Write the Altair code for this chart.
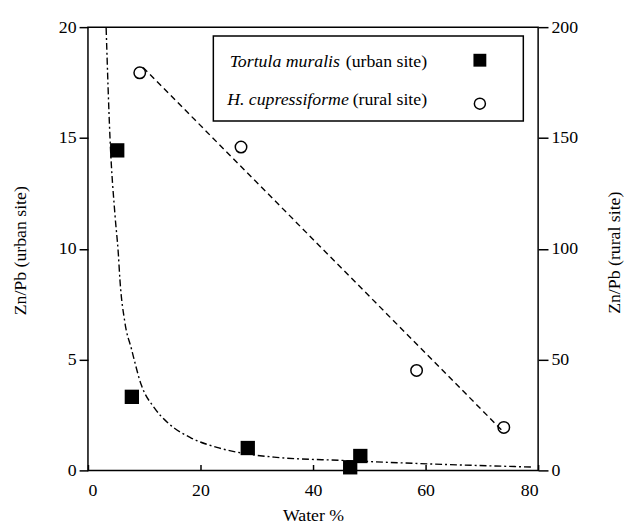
import altair as alt
import pandas as pd

# --- data ---
urban_water = [5.2, 7.8, 28.4, 46.6, 48.4]
urban_ratio = [14.44, 3.32, 1.01, 0.14, 0.65]

rural_water = [9.2, 27.2, 58.4, 73.9]
rural_ratio = [179.4, 145.9, 45.1, 19.4]

# fitted curve for the urban site
curve_water = [3.23, 3.93, 4.81, 5.39, 5.68, 6.56, 7.72, 9.47, 11.8, 14.2,
               18.2, 22.9, 27.6, 33.5, 45.2, 61.0, 79.1]
curve_ratio = [19.96, 14.92, 11.5, 9.8, 8.61, 6.68, 5.49, 3.86, 2.82, 2.15,
               1.48, 1.04, 0.77, 0.59, 0.45, 0.29, 0.15]

# regression line for the rural site (end points traced)
line_water = [9.8, 73.8]
line_ratio = [181.8, 17.5]

x_ticks = [0, 20, 40, 60, 80]
left_ticks = [0, 5, 10, 15, 20]
right_ticks = [0, 50, 100, 150, 200]

FONT = "Liberation Serif"

urban_df = pd.DataFrame({"water": urban_water, "ratio": urban_ratio})
rural_df = pd.DataFrame({"water": rural_water, "ratio": rural_ratio})
curve_df = pd.DataFrame({"water": curve_water, "ratio": curve_ratio})
line_df = pd.DataFrame({"water": line_water, "ratio": line_ratio})

x_scale = alt.Scale(domain=[0, 80], nice=False, zero=False)
x_axis = alt.Axis(values=x_ticks, title="Water %", offset=-6, tickSize=6,
                  labelPadding=11, titleY=57, titleBaseline="alphabetic",
                  titleAlign="center", titleX=228)

left_scale = alt.Scale(domain=[0, 20], nice=False)
right_scale = alt.Scale(domain=[0, 200], nice=False)

left_axis = alt.Axis(values=left_ticks, title="Zn/Pb (urban site)", tickSize=9,
                     labelPadding=3, titleAngle=-90, titleX=-63, titleY=226,
                     titleAlign="center", titleBaseline="alphabetic")
right_axis = alt.Axis(values=right_ticks, title="Zn/Pb (rural site)", orient="right",
                      tickSize=10, labelPadding=3, titleAngle=-90, titleX=82,
                      titleY=228, titleAlign="center", titleBaseline="alphabetic")

urban_pts = alt.Chart(urban_df).mark_point(
    shape="square", filled=True, color="black", size=210, opacity=1
).encode(
    x=alt.X("water:Q", scale=x_scale, axis=x_axis),
    y=alt.Y("ratio:Q", scale=left_scale, axis=left_axis),
)
urban_curve = alt.Chart(curve_df).mark_line(
    color="black", strokeWidth=1.4, strokeDash=[7, 3, 2, 3], interpolate="monotone"
).encode(
    x=alt.X("water:Q", scale=x_scale),
    y=alt.Y("ratio:Q", scale=left_scale),
)
urban = alt.layer(urban_curve, urban_pts)

rural_pts = alt.Chart(rural_df).mark_point(
    shape="circle", filled=False, color="black", size=135, strokeWidth=1.5, opacity=1
).encode(
    x=alt.X("water:Q", scale=x_scale),
    y=alt.Y("ratio:Q", scale=right_scale, axis=right_axis),
)
rural_line = alt.Chart(line_df).mark_line(
    color="black", strokeWidth=1.4, strokeDash=[6, 4]
).encode(
    x=alt.X("water:Q", scale=x_scale),
    y=alt.Y("ratio:Q", scale=right_scale),
)
rural = alt.layer(rural_line, rural_pts)

# --- hand-built legend (mixed italic / regular text) ---
one = pd.DataFrame({"k": [0]})
legend_box = alt.Chart(one).mark_rect(
    fill="white", stroke="black", strokeWidth=1.5
).encode(x=alt.value(127), x2=alt.value(441), y=alt.value(9), y2=alt.value(95))

def txt(s, x, y, italic, align):
    return alt.Chart(one).mark_text(
        text=s, font=FONT, fontSize=18, fontStyle="italic" if italic else "normal",
        align=align, baseline="alphabetic", color="black"
    ).encode(x=alt.value(x), y=alt.value(y))

leg_t1a = txt("Tortula muralis", 143.5, 40, True, "left")
leg_t1b = txt("(urban site)", 343.5, 40, False, "right")
leg_t2a = txt("H. cupressiforme", 141, 79, True, "left")
leg_t2b = txt("(rural site)", 343.5, 79, False, "right")
leg_sq = alt.Chart(one).mark_point(
    shape="square", filled=True, color="black", size=170, opacity=1
).encode(x=alt.value(397), y=alt.value(33.5))
leg_ci = alt.Chart(one).mark_point(
    shape="circle", filled=False, color="black", size=125, strokeWidth=1.5, opacity=1
).encode(x=alt.value(397), y=alt.value(77.5))

legend = alt.layer(legend_box, leg_t1a, leg_t1b, leg_t2a, leg_t2b, leg_sq, leg_ci)

chart = alt.layer(urban, rural, legend).resolve_scale(
    y="independent"
).properties(
    width=456, height=449,
    autosize=alt.AutoSizeParams(type="none"),
    padding={"left": 81, "top": 16, "right": 88, "bottom": 59},
    background="white",
).configure_view(
    stroke="black", strokeWidth=1.5
).configure_axis(
    grid=False, domain=False,
    labelFont=FONT, labelFontSize=18, labelColor="black",
    titleFont=FONT, titleFontSize=18, titleColor="black", titleFontWeight="normal",
    tickColor="black", tickWidth=1.5,
)

chart.save("out.html", embed_options={"renderer": "svg", "actions": False})
